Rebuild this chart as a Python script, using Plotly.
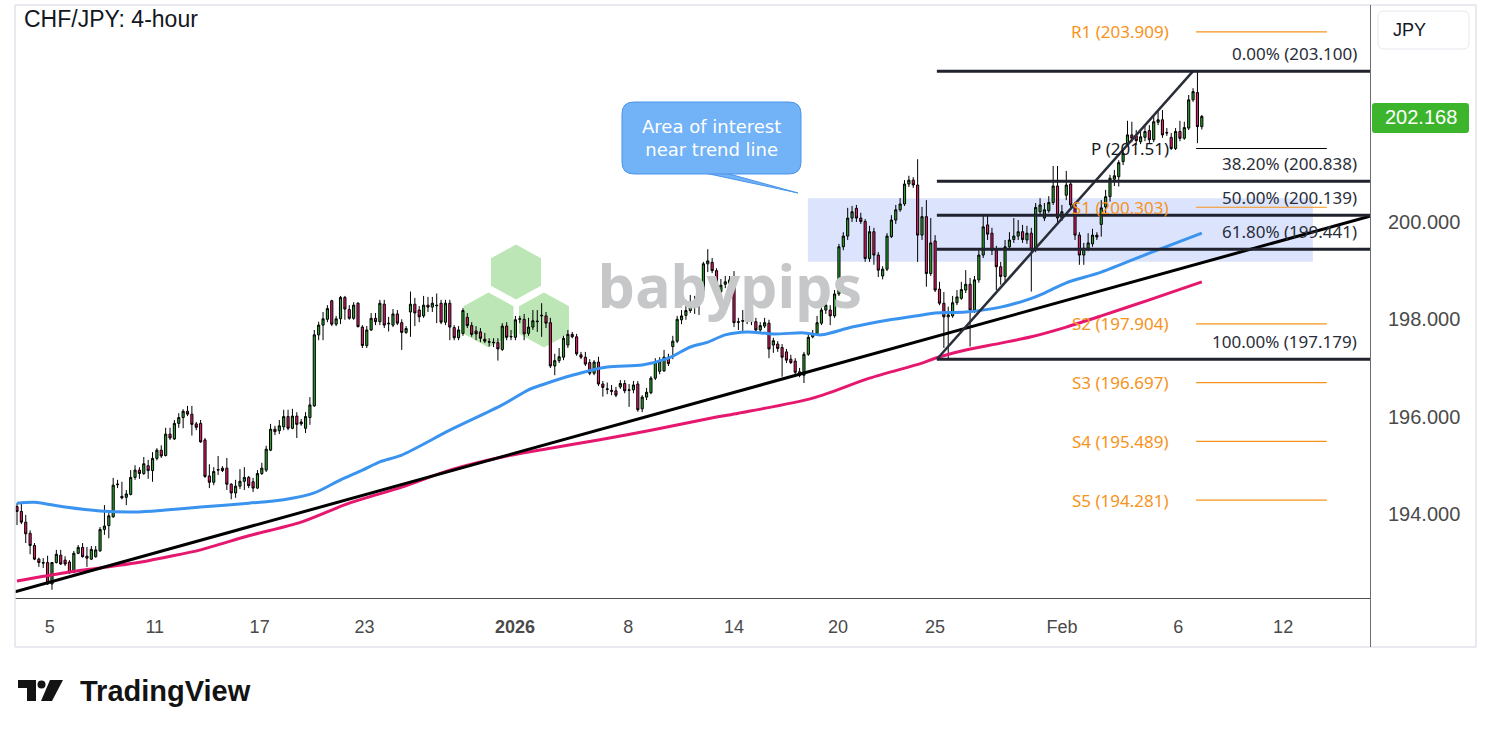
import plotly.graph_objects as go

# ---------------- data ----------------
opens = [
194.15,194.05,193.83,193.60,193.35,193.07,193.00,193.00,192.56,193.00,
193.15,193.05,193.01,192.80,193.19,193.31,193.13,193.07,193.12,193.24,
193.68,193.76,193.94,194.60,194.36,194.34,194.40,194.75,194.90,194.83,
194.99,194.89,195.14,195.31,195.20,195.64,195.54,195.86,195.98,196.11,
196.05,195.85,195.86,195.52,194.78,194.65,194.90,194.94,194.94,194.61,
194.43,194.57,194.67,194.75,194.66,194.53,194.83,194.90,195.31,195.74,
195.71,195.79,196.00,195.76,196.01,195.89,195.76,195.98,196.22,197.68,
197.88,198.00,198.38,197.90,198.01,198.45,198.20,198.02,198.33,197.84,
197.46,197.78,198.02,197.95,198.31,197.92,197.88,198.11,197.93,197.73,
198.15,198.31,198.19,198.07,198.29,198.25,198.29,198.33,197.94,198.33,
197.83,197.62,197.71,198.04,197.87,197.76,197.74,197.59,197.54,197.53,
197.52,197.38,197.86,197.65,197.63,198.00,198.00,197.71,197.84,197.95,
198.07,198.07,197.93,197.04,197.15,197.22,197.47,197.69,197.64,197.27,
197.22,197.11,196.89,197.12,196.67,196.57,196.54,196.53,196.61,196.68,
196.55,196.55,196.67,196.16,196.40,196.49,196.79,196.93,196.94,197.22,
197.44,197.55,197.99,198.08,198.18,198.31,198.40,198.59,199.14,199.17,
199.00,198.57,198.72,198.74,198.79,197.95,197.96,197.96,198.12,197.95,
197.78,197.86,197.92,197.47,197.49,197.42,197.33,197.18,197.14,196.92,
196.85,197.28,197.64,197.70,197.92,198.19,198.19,198.07,198.52,199.49,
199.71,200.08,200.28,200.08,200.01,199.25,199.80,199.32,198.89,199.03,
199.70,200.04,200.25,200.37,200.78,200.86,200.76,199.73,200.11,198.94,
199.61,198.62,198.33,198.05,198.07,198.34,198.43,198.60,198.72,198.19,
198.81,199.32,199.94,199.77,199.42,199.08,198.88,199.49,199.64,199.71,
199.80,199.63,199.77,199.44,200.21,200.08,200.23,200.40,200.74,200.08,
200.55,200.78,200.35,199.73,199.32,199.46,199.55,199.73,199.95,200.31,
200.52,200.88,200.93,201.24,201.62,201.79,201.77,201.65,201.74,201.88,
201.69,202.05,202.10,201.84,201.74,201.51,201.86,201.72,201.93,202.51,
202.66,201.96]

highs = [
194.22,194.24,193.98,193.66,193.40,193.10,193.09,193.14,193.01,193.26,
193.26,193.13,193.05,193.24,193.36,193.40,193.32,193.34,193.34,193.73,
194.18,194.02,194.74,194.70,194.66,194.49,194.90,195.00,194.96,195.17,
195.11,195.27,195.35,195.41,195.77,195.77,195.93,196.07,196.15,196.22,
196.22,195.89,195.93,195.56,195.02,194.96,195.19,194.98,195.15,194.63,
194.70,194.92,194.96,194.78,194.74,194.90,195.05,195.40,195.85,195.81,
195.93,196.14,196.14,196.16,196.09,195.95,196.09,196.40,197.78,197.95,
198.15,198.29,198.40,198.07,198.48,198.48,198.29,198.35,198.35,197.88,
197.86,198.13,198.13,198.40,198.40,198.05,198.21,198.19,198.00,197.86,
198.57,198.44,198.27,198.48,198.46,198.46,198.53,198.40,198.40,198.40,
197.88,197.86,198.23,198.13,197.94,197.86,197.82,197.72,197.61,197.61,
197.61,197.92,197.94,197.78,198.07,198.07,198.11,198.03,198.19,198.19,
198.33,198.15,198.03,197.29,197.41,197.66,197.78,197.74,197.70,197.33,
197.33,197.18,197.16,197.23,196.73,196.70,196.65,196.61,196.75,196.75,
196.67,196.73,196.73,196.44,196.59,196.83,197.20,197.22,197.37,197.29,
197.66,198.07,198.19,198.40,198.50,198.48,198.64,199.18,199.44,199.26,
199.05,198.83,198.89,198.89,198.99,198.03,198.19,198.29,198.23,198.03,
197.94,198.03,197.99,197.62,197.55,197.49,197.39,197.27,197.20,197.00,
197.33,197.70,197.78,198.07,198.38,198.40,198.29,198.60,199.55,199.79,
200.29,200.33,200.35,200.19,200.06,199.92,199.88,199.38,199.09,199.77,
200.14,200.35,200.49,200.86,200.95,200.92,201.29,200.31,200.45,200.08,
199.73,198.77,198.56,198.26,198.48,198.60,198.77,199.01,198.85,198.89,
199.42,200.16,200.16,199.88,199.51,199.18,199.63,199.79,200.08,200.04,
199.94,199.92,199.88,200.39,200.49,200.39,200.53,201.15,201.15,200.35,
201.05,200.86,200.41,199.79,199.57,199.77,199.86,199.79,200.45,200.66,
200.97,201.07,201.27,201.48,202.08,202.06,201.89,201.87,201.97,201.99,
202.18,202.30,202.30,201.93,201.83,201.93,202.08,202.06,202.61,202.75,
203.10,202.20]

lows = [
193.77,193.79,193.40,193.17,193.05,192.91,192.89,192.54,192.44,192.98,
192.95,192.93,192.77,192.78,193.17,193.10,192.91,193.05,193.10,193.22,
193.57,193.50,193.92,194.53,194.30,194.18,194.38,194.70,194.72,194.80,
194.72,194.66,195.10,195.15,195.18,195.52,195.52,195.77,195.76,196.01,
195.61,195.72,195.46,194.74,194.53,194.59,194.80,194.86,194.49,194.30,
194.33,194.51,194.49,194.53,194.45,194.51,194.80,194.86,195.29,195.62,
195.64,195.72,195.72,195.74,195.56,195.81,195.66,195.83,196.20,197.57,
197.57,197.94,197.86,197.86,197.90,197.99,197.99,197.99,197.83,197.41,
197.41,197.76,197.88,197.88,197.82,197.75,197.84,197.88,197.37,197.70,
197.64,197.86,197.94,198.03,198.15,198.15,197.92,197.90,197.88,197.57,
197.57,197.57,197.66,197.82,197.64,197.57,197.53,197.51,197.44,197.43,
197.15,197.35,197.57,197.57,197.57,197.92,197.57,197.66,197.78,197.74,
197.64,197.82,197.00,196.85,197.10,197.16,197.41,197.61,197.25,197.18,
197.04,196.85,196.85,196.63,196.41,196.46,196.44,196.40,196.57,196.48,
196.20,196.48,196.10,196.09,196.34,196.46,196.75,196.87,196.92,197.04,
197.18,197.51,197.90,197.99,198.13,198.11,198.09,198.56,198.97,198.95,
198.54,198.54,198.64,198.66,197.84,197.78,197.72,197.90,197.88,197.74,
197.74,197.82,197.20,197.31,197.33,196.82,197.10,197.08,196.87,196.81,
196.69,197.25,197.61,197.66,197.88,198.11,197.88,198.03,198.48,199.42,
199.63,200.00,200.00,199.96,199.18,199.18,199.12,198.87,198.82,198.99,
199.67,199.96,200.21,200.33,200.72,200.70,199.18,199.63,198.67,198.89,
198.56,198.29,197.41,197.18,198.03,198.29,198.40,198.54,197.44,198.13,
198.75,199.26,199.63,199.32,198.60,198.71,198.77,199.42,199.57,199.63,
199.57,199.55,198.57,199.38,200.14,200.02,200.19,200.35,200.00,200.02,
200.45,200.29,199.63,199.12,199.12,199.40,199.49,199.63,199.70,200.14,
200.42,200.74,200.73,201.17,201.56,201.64,201.58,201.60,201.66,201.62,
201.64,201.99,201.73,201.77,201.48,201.48,201.66,201.69,201.89,202.47,
201.62,201.90]

closes = [
194.05,193.83,193.59,193.35,193.07,193.00,192.99,192.56,193.00,193.17,
192.97,192.97,192.79,193.19,193.31,193.12,193.09,193.27,193.26,193.68,
193.75,193.96,194.59,194.61,194.33,194.41,194.75,194.90,194.83,195.03,
194.89,195.14,195.31,195.19,195.64,195.56,195.86,195.98,196.11,196.05,
195.84,195.78,195.48,194.77,194.65,194.87,194.91,194.89,194.61,194.43,
194.57,194.67,194.75,194.58,194.53,194.83,194.94,195.33,195.74,195.69,
195.81,196.00,195.76,196.01,195.84,195.85,196.00,196.24,197.68,197.88,
198.01,198.22,197.90,198.01,198.45,198.21,198.02,198.29,197.85,197.46,
197.78,198.02,197.95,198.33,197.88,197.91,198.11,197.92,197.73,197.81,
198.31,198.13,198.05,198.29,198.25,198.33,198.28,197.94,198.33,197.84,
197.62,197.78,198.18,197.87,197.69,197.70,197.61,197.55,197.53,197.52,
197.39,197.86,197.63,197.64,197.99,198.01,197.70,197.84,197.97,197.96,
198.08,197.92,197.04,197.15,197.23,197.61,197.69,197.64,197.29,197.22,
197.08,196.89,197.12,196.67,196.60,196.56,196.52,196.44,196.68,196.53,
196.54,196.65,196.14,196.40,196.50,196.79,197.11,197.13,197.22,197.09,
197.55,198.00,198.07,198.18,198.31,198.34,198.59,199.14,199.20,199.00,
198.57,198.70,198.77,198.81,197.93,197.94,197.97,198.07,197.95,197.78,
197.87,197.93,197.39,197.56,197.40,197.22,197.16,197.11,196.91,196.85,
197.28,197.63,197.71,197.93,198.19,198.29,198.07,198.52,199.49,199.71,
200.08,200.21,200.08,200.01,199.25,199.80,199.32,199.01,199.03,199.71,
200.04,200.25,200.37,200.78,200.86,200.76,199.73,200.11,198.94,199.57,
198.60,198.33,198.05,198.09,198.34,198.46,198.61,198.72,198.19,198.81,
199.32,199.90,199.75,199.42,199.08,198.88,199.49,199.63,199.71,199.80,
199.64,199.77,199.44,200.30,200.35,200.25,200.40,200.74,200.08,200.21,
200.76,200.35,199.73,199.32,199.46,199.57,199.73,199.69,200.29,200.52,
200.90,200.95,201.22,201.41,201.79,201.72,201.67,201.75,201.86,201.69,
202.06,202.10,201.79,201.83,201.51,201.86,201.72,201.94,202.51,202.68,
201.96,202.17]

candle_idx = list(range(len(opens)))

# time-axis labels (candle index positions)
tick_pos = [7.5, 31.5, 55.5, 79.5, 113.9, 139.8, 164.0, 187.8, 210.0, 239.0, 265.6, 289.6]
tick_text = ["5", "11", "17", "23", "<b>2026</b>", "8", "14", "20", "25", "Feb", "6", "12"]

price_ticks = [194, 196, 198, 200]
price_tick_text = ["194.000", "196.000", "198.000", "200.000"]

# moving averages (sampled along the chart)
ma_fast_idx = [0, 4, 11, 19, 27, 34, 42, 53, 61, 68, 74, 79, 83, 88, 99, 111, 117, 120, 127, 135,
               143, 149, 154, 158, 162, 167, 173, 180, 184, 191, 199, 207, 210, 217, 225, 231, 235,
               240, 248, 259, 271]
ma_fast_val = [194.22, 194.24, 194.14, 194.06, 194.04, 194.08, 194.14, 194.22, 194.29, 194.43, 194.70,
               194.90, 195.07, 195.21, 195.72, 196.24, 196.55, 196.65, 196.85, 197.02, 197.06, 197.20,
               197.43, 197.53, 197.68, 197.74, 197.70, 197.72, 197.68, 197.84, 197.98, 198.09, 198.13,
               198.15, 198.25, 198.40, 198.54, 198.75, 198.97, 199.36, 199.77]
ma_slow_idx = [0, 11, 19, 27, 34, 42, 53, 65, 76, 88, 99, 111, 122, 133, 145, 160, 165, 182, 195,
               207, 210, 217, 225, 232, 240, 248, 259, 271]
ma_slow_val = [192.62, 192.79, 192.89, 192.99, 193.11, 193.26, 193.55, 193.83, 194.22, 194.55, 194.90,
               195.17, 195.35, 195.52, 195.72, 195.99, 196.07, 196.38, 196.79, 197.10, 197.20, 197.37,
               197.51, 197.64, 197.84, 198.07, 198.40, 198.77]

# drawings
trend_idx = [-0.46, 309.47]
trend_price = [192.40, 200.12]
swing_idx = [210.4, 269.0]
swing_price = [197.179, 203.100]

fib_levels = [203.100, 200.838, 200.139, 199.441, 197.179]
fib_labels = ["0.00% (203.100)", "38.20% (200.838)", "50.00% (200.139)", "61.80% (199.441)", "100.00% (197.179)"]
fib_start = 210.4

pivot_names = ["R1", "P", "S1", "S2", "S3", "S4", "S5"]
pivot_levels = [203.909, 201.51, 200.303, 197.904, 196.697, 195.489, 194.281]
pivot_text = ["203.909", "201.51", "200.303", "197.904", "196.697", "195.489", "194.281"]
pivot_span = [269.7, 299.6]

zone_idx = [180.9, 296.4]
zone_price = [199.18, 200.49]

last_price = 202.168

# ---------------- layout geometry ----------------
FW, FH = 1491, 737
ML, MR, MT, MB = 15, 121, 5, 139
PW, PH = FW - ML - MR, FH - MT - MB
X0, X1 = -0.457, 309.47
Y0, Y1 = 192.271, 204.460

def PX(px):
    return (px - ML) / PW

def PY(py):
    return (FH - MB - py) / PH

def DX(px):
    return X0 + (px - ML) / PW * (X1 - X0)

def DY(py):
    return Y1 - (py - MT) / PH * (Y1 - Y0)

def path(points, close=True):
    s = "M " + " L ".join(f"{PX(x):.5f},{PY(y):.5f}" for x, y in points)
    return s + (" Z" if close else "")

def rrect(x0, y0, x1, y1, r):
    p = lambda x, y: f"{PX(x):.5f},{PY(y):.5f}"
    return (f"M {p(x0+r,y0)} L {p(x1-r,y0)} Q {p(x1,y0)} {p(x1,y0+r)} L {p(x1,y1-r)} "
            f"Q {p(x1,y1)} {p(x1-r,y1)} L {p(x0+r,y1)} Q {p(x0,y1)} {p(x0,y1-r)} "
            f"L {p(x0,y0+r)} Q {p(x0,y0)} {p(x0+r,y0)} Z")

def hexagon(cx, cy, w, h):
    return path([(cx, cy - h/2), (cx + w/2, cy - h/4), (cx + w/2, cy + h/4),
                 (cx, cy + h/2), (cx - w/2, cy + h/4), (cx - w/2, cy - h/4)])

GREEN = "#2ba32b"
RED = "#e8196e"
BLUE = "#3a93ef"
PINK = "#e6176f"
ORANGE = "#f7931a"
FIB = "#20232e"
AXIS_TXT = "#4a4a4a"

fig = go.Figure()

# watermark text (below candles)
fig.add_trace(go.Scatter(x=[DX(730)], y=[DY(293)], mode="text", text=["<b>babypips</b>"],
                         textfont=dict(family="Noto Sans", size=59, color="#c6c7c9"),
                         hoverinfo="skip", showlegend=False))

fig.add_trace(go.Candlestick(
    x=candle_idx, open=opens, high=highs, low=lows, close=closes,
    increasing=dict(fillcolor=GREEN, line=dict(color="#000000", width=1)),
    decreasing=dict(fillcolor=RED, line=dict(color="#000000", width=1)),
    whiskerwidth=0, showlegend=False, hoverinfo="skip"))

fig.add_trace(go.Scatter(x=ma_fast_idx, y=ma_fast_val, mode="lines",
                         line=dict(color=BLUE, width=3, shape="spline", smoothing=0.8),
                         hoverinfo="skip", showlegend=False))
fig.add_trace(go.Scatter(x=ma_slow_idx, y=ma_slow_val, mode="lines",
                         line=dict(color=PINK, width=3, shape="spline", smoothing=0.8),
                         hoverinfo="skip", showlegend=False))

# trend lines
fig.add_trace(go.Scatter(x=trend_idx, y=trend_price, mode="lines",
                         line=dict(color="#000000", width=3), hoverinfo="skip", showlegend=False))
fig.add_trace(go.Scatter(x=swing_idx, y=swing_price, mode="lines",
                         line=dict(color="#2a2e39", width=2.5), hoverinfo="skip", showlegend=False))

# fib levels
for lvl in fib_levels:
    fig.add_trace(go.Scatter(x=[fib_start, X1], y=[lvl, lvl], mode="lines",
                             line=dict(color=FIB, width=3), hoverinfo="skip", showlegend=False))

# pivot levels
for name, lvl in zip(pivot_names, pivot_levels):
    col = "#000000" if name == "P" else ORANGE
    fig.add_trace(go.Scatter(x=pivot_span, y=[lvl, lvl], mode="lines",
                             line=dict(color=col, width=1.2), hoverinfo="skip", showlegend=False))

shapes = []
shapes.append(dict(type="rect", xref="x", yref="y", x0=zone_idx[0], x1=zone_idx[1],
                   y0=zone_price[0], y1=zone_price[1], fillcolor="#dbe4fc", line=dict(width=0),
                   layer="below"))
for cx, cy in [(516, 272), (488.5, 320), (544, 320)]:
    shapes.append(dict(type="path", xref="paper", yref="paper", path=hexagon(cx, cy, 50, 55),
                       fillcolor="#bde6b6", line=dict(width=0), layer="below"))
frame = "#e0e3eb"
shapes += [
    dict(type="line", xref="paper", yref="paper", x0=PX(15), x1=PX(1476), y0=PY(5), y1=PY(5), line=dict(color=frame, width=1.5)),
    dict(type="line", xref="paper", yref="paper", x0=PX(15), x1=PX(15), y0=PY(5), y1=PY(647), line=dict(color=frame, width=1.5)),
    dict(type="line", xref="paper", yref="paper", x0=PX(1476), x1=PX(1476), y0=PY(5), y1=PY(647), line=dict(color=frame, width=1.5)),
    dict(type="line", xref="paper", yref="paper", x0=PX(15), x1=PX(1476), y0=PY(647), y1=PY(647), line=dict(color=frame, width=1.5)),
    dict(type="line", xref="paper", yref="paper", x0=PX(1370.5), x1=PX(1370.5), y0=PY(5), y1=PY(647), line=dict(color="#6a6d78", width=1)),
]
shapes.append(dict(type="path", xref="paper", yref="paper",
                   path=path([(700, 172), (722, 172), (798, 193)]),
                   fillcolor="#72b2f6", line=dict(color="#4a94ec", width=1)))
shapes.append(dict(type="path", xref="paper", yref="paper", path=rrect(622, 102, 801, 174, 12),
                   fillcolor="#72b2f6", line=dict(color="#4a94ec", width=1)))
shapes.append(dict(type="path", xref="paper", yref="paper", path=rrect(1378, 11, 1469, 49, 6),
                   fillcolor="#ffffff", line=dict(color="#e6e8ee", width=1)))
shapes.append(dict(type="path", xref="paper", yref="paper", path=rrect(1372, 103, 1469, 133, 3),
                   fillcolor="#3cb52c", line=dict(width=0)))
shapes.append(dict(type="path", xref="paper", yref="paper",
                   path=path([(18, 680), (36, 680), (36, 701), (27, 701), (27, 688), (18, 688)]),
                   fillcolor="#131313", line=dict(width=0)))
shapes.append(dict(type="circle", xref="paper", yref="paper", x0=PX(37.5), x1=PX(45.5),
                   y0=PY(688.5), y1=PY(680.5), fillcolor="#131313", line=dict(width=0)))
shapes.append(dict(type="path", xref="paper", yref="paper",
                   path=path([(50, 680), (63, 680), (52, 701), (41, 701)]),
                   fillcolor="#131313", line=dict(width=0)))

ann = []
ann.append(dict(xref="paper", yref="paper", x=PX(22), y=PY(19), xanchor="left", yanchor="middle",
                text="CHF/JPY: 4-hour", showarrow=False,
                font=dict(family="Liberation Sans", size=23, color="#131722")))
for lvl, lab in zip(fib_levels, fib_labels):
    ann.append(dict(xref="paper", yref="y", x=PX(1359), y=lvl, xanchor="right", yanchor="bottom",
                    yshift=4, text=lab, showarrow=False, align="right",
                    font=dict(family="Noto Sans", size=17, color="#2a2e39")))
for name, lvl, t in zip(pivot_names, pivot_levels, pivot_text):
    col = "#131722" if name == "P" else ORANGE
    ann.append(dict(xref="paper", yref="y", x=PX(1171), y=lvl, xanchor="right", yanchor="middle",
                    text=f"{name} ({t})", showarrow=False, align="right",
                    font=dict(family="Noto Sans", size=17, color=col)))
ann.append(dict(xref="paper", yref="paper", x=PX(711.5), y=PY(138), xanchor="center", yanchor="middle",
                text="Area of interest<br>near trend line", showarrow=False, align="center",
                font=dict(family="DejaVu Sans", size=18, color="#ffffff")))
ann.append(dict(xref="paper", yref="paper", x=PX(1391), y=PY(30), xanchor="left", yanchor="middle",
                text="JPY", showarrow=False,
                font=dict(family="Liberation Sans", size=18, color="#131722")))
ann.append(dict(xref="paper", yref="y", x=PX(1420.5), y=last_price, xanchor="center", yanchor="middle",
                text=f"{last_price:.3f}", showarrow=False,
                font=dict(family="Liberation Sans", size=20, color="#ffffff")))
ann.append(dict(xref="paper", yref="paper", x=PX(78), y=PY(691), xanchor="left", yanchor="middle",
                text="<b>TradingView</b>", showarrow=False,
                font=dict(family="Liberation Sans", size=29, color="#131313")))

fig.update_layout(
    width=FW, height=FH,
    margin=dict(l=ML, r=MR, t=MT, b=MB),
    paper_bgcolor="#ffffff", plot_bgcolor="rgba(0,0,0,0)",
    showlegend=False, shapes=shapes, annotations=ann,
    xaxis=dict(range=[X0, X1], tickmode="array", tickvals=tick_pos, ticktext=tick_text,
               showgrid=False, zeroline=False, showline=True, linecolor="#4d4d4d", linewidth=1,
               ticks="", ticklabelstandoff=12, rangeslider=dict(visible=False), fixedrange=True,
               tickfont=dict(family="Liberation Sans", size=18, color=AXIS_TXT)),
    yaxis=dict(range=[Y0, Y1], side="right", tickmode="array", tickvals=price_ticks,
               ticktext=price_tick_text, showgrid=False, zeroline=False, showline=False,
               ticks="", ticklabelstandoff=17, fixedrange=True,
               tickfont=dict(family="Liberation Sans", size=20, color=AXIS_TXT)),
)

fig.write_html("out.html", config={"displayModeBar": False},
               post_script="document.body.style.margin='0px';")
